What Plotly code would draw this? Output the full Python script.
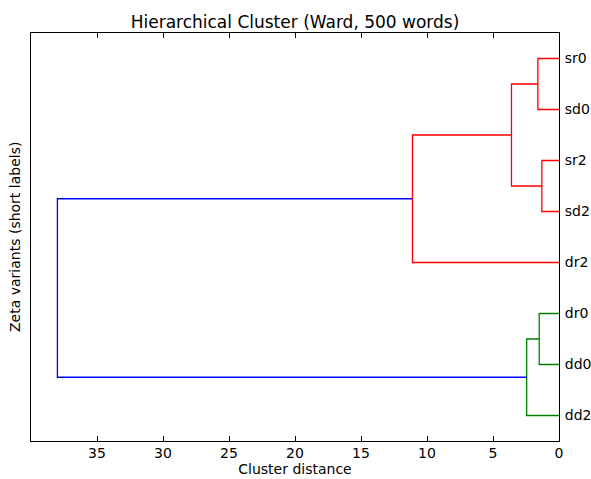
import plotly.graph_objects as go

# leaves from bottom to top, placed at 5, 15, 25, ... like scipy
leaf_labels = ["dd2", "dd0", "dr0", "dr2", "sd2", "sr2", "sd0", "sr0"]

# merges: left child, right child, distance, new node name
merge_left = ["dr0", "A", "sr0", "sr2", "C", "E", "F"]
merge_right = ["dd0", "dd2", "sd0", "sd2", "D", "dr2", "B"]
merge_dist = [1.5, 2.45, 1.6, 1.3, 3.6, 11.1, 38.0]
merge_name = ["A", "B", "C", "D", "E", "F", "root"]
merge_color = ["#008000", "#008000", "#ff0000", "#ff0000", "#ff0000", "#ff0000", "#0000ff"]

pos = {lab: 5 + 10 * i for i, lab in enumerate(leaf_labels)}
height = {lab: 0.0 for lab in leaf_labels}

fig = go.Figure()
for a, b, d, n, c in zip(merge_left, merge_right, merge_dist, merge_name, merge_color):
    fig.add_trace(go.Scatter(
        x=[height[a], d, d, height[b]],
        y=[pos[a], pos[a], pos[b], pos[b]],
        mode="lines",
        line=dict(color=c, width=1.3),
        showlegend=False,
        hoverinfo="skip",
    ))
    pos[n] = (pos[a] + pos[b]) / 2
    height[n] = d

fig.update_layout(
    width=591, height=479,
    margin=dict(l=31, r=32, t=33, b=38),
    plot_bgcolor="white", paper_bgcolor="white",
    font=dict(family="DejaVu Sans", size=14, color="black"),
    title=dict(text="Hierarchical Cluster (Ward, 500 words)", x=0.5, xref="paper",
               y=1, yref="paper", yanchor="bottom", pad=dict(b=5),
               font=dict(size=17)),
)

fig.update_xaxes(
    range=[40, 0], tickvals=[0, 5, 10, 15, 20, 25, 30, 35],
    ticks="inside", ticklen=5, tickcolor="black", ticklabelstandoff=-1,
    showline=True, linecolor="black", linewidth=1, mirror="ticks",
    showgrid=False, zeroline=False, automargin=False,
    title=dict(text="Cluster distance", standoff=4, font=dict(size=14)),
)
fig.update_yaxes(
    range=[0, 80], side="right",
    tickvals=[pos[l] for l in leaf_labels], ticktext=leaf_labels,
    ticks="", ticklabelstandoff=2, tickfont=dict(size=14),
    showline=True, linecolor="black", linewidth=1, mirror=True,
    showgrid=False, zeroline=False, automargin=False,
)

fig.add_annotation(
    text="Zeta variants (short labels)", textangle=-90,
    xref="paper", yref="paper", x=0, y=0.5, xanchor="right", yanchor="middle",
    xshift=-6, showarrow=False, font=dict(size=14),
)

# drop the default 8px body margin so the figure fills the window
fig.write_html("out.html", config={"displayModeBar": False},
               post_script="document.body.style.margin = '0px';")
